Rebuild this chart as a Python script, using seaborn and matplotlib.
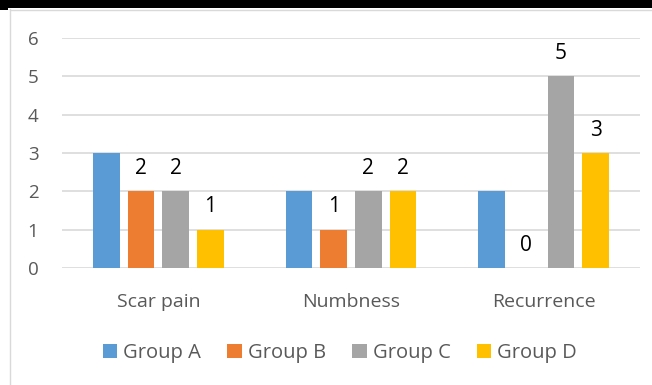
import matplotlib
matplotlib.use("Agg")
import matplotlib.pyplot as plt
from matplotlib.patches import Patch, Rectangle
from matplotlib.lines import Line2D
import seaborn as sns
import pandas as pd

symptoms = ["Scar pain", "Numbness", "Recurrence"]
groups = ["Group A", "Group B", "Group C", "Group D"]
group_a = [3, 2, 2]
group_b = [2, 1, 0]
group_c = [2, 2, 5]
group_d = [1, 2, 3]
labelled_groups = ["Group B", "Group C", "Group D"]
colors = ["#5B9BD5", "#ED7D31", "#A5A5A5", "#FFC000"]

rows = []
for g, vals in zip(groups, [group_a, group_b, group_c, group_d]):
    for s, v in zip(symptoms, vals):
        rows.append({"symptom": s, "group": g, "count": v})
df = pd.DataFrame(rows)

sns.set_style("white")
plt.rcParams["font.family"] = ["Open Sans", "DejaVu Sans"]

W, H = 652, 385
fig = plt.figure(figsize=(W / 100, H / 100), dpi=100)
ax = fig.add_axes([62 / W, 1 - 268 / H, (640 - 62) / W, (268 - 38) / H])

sns.barplot(data=df, x="symptom", y="count", hue="group", order=symptoms,
            hue_order=groups, palette=colors, width=0.72, gap=0.23,
            saturation=1, legend=False, linewidth=0, edgecolor="none", ax=ax)

ax.set_ylim(0, 6)
ax.set_yticks(range(0, 7))
ax.yaxis.grid(True, color="#D9D9D9", linewidth=1.2)
ax.set_axisbelow(True)
for sp in ax.spines.values():
    sp.set_visible(False)
ax.set_xlabel("")
ax.set_ylabel("")
ax.tick_params(axis="y", length=0, pad=17, labelsize=13.5, labelcolor="#595959")
ax.tick_params(axis="x", length=0, pad=18, labelsize=14, labelcolor="#595959")

# value labels for groups B-D
for g, cont in zip(groups, ax.containers):
    if g not in labelled_groups:
        continue
    for p in cont:
        ax.annotate(f"{p.get_height():.0f}",
                    (p.get_x() + p.get_width() / 2, p.get_height()),
                    xytext=(0, 16.5), textcoords="offset points",
                    ha="center", va="center", fontsize=15, color="#000000")

handles = [Patch(facecolor=c, edgecolor="none", label=g) for g, c in zip(groups, colors)]
fig.legend(handles=handles, loc="center", bbox_to_anchor=(340 / W, 1 - 353 / H),
           ncol=4, frameon=False, fontsize=14.5, labelcolor="#595959",
           handlelength=0.72, handleheight=0.72, handletextpad=0.3,
           columnspacing=1.3)

# chart frame
fig.patches.append(Rectangle((0, 1 - 8 / H), 1, 8 / H, transform=fig.transFigure,
                             facecolor="black", edgecolor="none", zorder=5))
fig.patches.append(Rectangle((0, 1 - 10 / H), 8 / W, 2 / H, transform=fig.transFigure,
                             facecolor="black", edgecolor="none", zorder=5))
fig.lines.append(Line2D([9.5 / W, 9.5 / W], [0, 1 - 9 / H], transform=fig.transFigure,
                        color="#D9D9D9", linewidth=1))
fig.lines.append(Line2D([9.5 / W, 1], [1 - 9.5 / H, 1 - 9.5 / H], transform=fig.transFigure,
                        color="#D9D9D9", linewidth=1))

fig.savefig("out.png", dpi=100)
